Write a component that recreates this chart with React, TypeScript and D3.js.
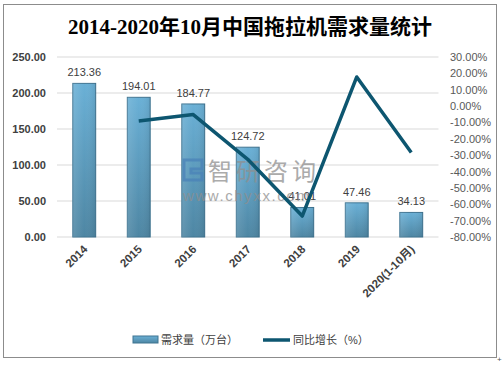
import React from "react";
import * as d3 from "d3";

const categories = ["2014", "2015", "2016", "2017", "2018", "2019", "2020(1-10月)"];
const demand = [213.36, 194.01, 184.77, 124.72, 41.01, 47.46, 34.13];
const demandLabels = ["213.36", "194.01", "184.77", "124.72", "41.01", "47.46", "34.13"];
const growth: (number | null)[] = [null, -9.1, -5.2, -32.5, -67.2, 17.8, -28.3];
const leftTicks = [0, 50, 100, 150, 200, 250];
const rightTicks = [30, 20, 10, 0, -10, -20, -30, -40, -50, -60, -70, -80];

const W = 503, H = 365;
const M = { left: 57, right: 438.5, top: 57, bottom: 237 };

export default function App() {
  const x = d3.scaleBand<string>().domain(categories).range([M.left, M.right]).paddingInner(0.58).paddingOuter(0.29);
  const y = d3.scaleLinear().domain([0, 250]).range([M.bottom, M.top]);
  const y2 = d3.scaleLinear().domain([-80, 30]).range([M.bottom, M.top]);
  const cx = (c: string) => (x(c) as number) + x.bandwidth() / 2;
  const linePts = categories.map((c, i) => ({ c, v: growth[i] })).filter(d => d.v !== null) as { c: string; v: number }[];
  const line = d3.line<{ c: string; v: number }>().x(d => cx(d.c)).y(d => y2(d.v));
  const font = "'Liberation Sans', 'Noto Sans CJK SC', sans-serif";
  return (
    <svg width={W} height={H} style={{ position: "absolute", left: 0, top: 0 }} fontFamily={font}>
      <defs>
        <linearGradient id="barg" x1="0" y1="0" x2="0" y2="1">
          <stop offset="0" stopColor="#6ab0d6" />
          <stop offset="1" stopColor="#4e86a3" />
        </linearGradient>
        <linearGradient id="barh" x1="0" y1="0" x2="1" y2="0">
          <stop offset="0" stopColor="#ffffff" stopOpacity="0.12" />
          <stop offset="0.5" stopColor="#ffffff" stopOpacity="0" />
          <stop offset="1" stopColor="#000000" stopOpacity="0.08" />
        </linearGradient>
      </defs>
      <rect x={0} y={0} width={W} height={H} fill="#fff" />
      <rect x={3.5} y={4.5} width={493} height={353} fill="#fff" stroke="#8c8c8c" strokeWidth={1} />
      <text x={497} y={362} fontSize={8} fill="#555">+</text>
      <text x={250} y={34} textAnchor="middle" fontSize={21} fontWeight="bold" fontFamily="'Liberation Serif', 'Noto Sans CJK SC', serif" fill="#000">
        2014-2020年10月中国拖拉机需求量统计
      </text>
      {leftTicks.map(t => (
        <g key={t}>
          <line x1={M.left} x2={M.right} y1={y(t)} y2={y(t)} stroke="#d9d9d9" strokeWidth={1} />
          <text x={46} y={y(t) + 4} textAnchor="end" fontSize={11} fontWeight="bold" fill="#404040">{t.toFixed(2)}</text>
        </g>
      ))}
      {rightTicks.map(t => (
        <text key={t} x={450} y={y2(t) + 4} fontSize={11} fill="#595959">{t.toFixed(2)}%</text>
      ))}
      {categories.map((c, i) => (
        <g key={c}>
          <rect x={x(c)} y={y(demand[i])} width={x.bandwidth()} height={y(0) - y(demand[i])} fill="url(#barg)" stroke="#3f7491" strokeWidth={1} />
          <rect x={x(c)} y={y(demand[i])} width={x.bandwidth()} height={y(0) - y(demand[i])} fill="url(#barh)" />
          <text x={cx(c)} y={y(demand[i]) - 7} textAnchor="middle" fontSize={11} fill="#404040">{demandLabels[i]}</text>
          <text transform={`translate(${cx(c) + 4},${y(0) + 13}) rotate(-45)`} textAnchor="end" fontSize={11.5} fontWeight="bold" fill="#404040">{c}</text>
        </g>
      ))}
      <g opacity={0.75}>
        <path d="M184,160 h18 v9 h-11 v4 h11 v7 h-18 z" fill="none" stroke="#4a82b8" strokeWidth={3} />
        <text x={208} y={180} fontSize={24} letterSpacing={4} fill="#8f8f8f" fontFamily="'Noto Sans CJK SC', sans-serif">智研咨询</text>
        <text x={183} y={201} fontSize={15} fill="#8f8f8f" letterSpacing={1.6}>www.chyxx.com</text>
      </g>
      <path d={line(linePts) ?? ""} fill="none" stroke="#0d5670" strokeWidth={3.5} strokeLinejoin="round" />
      <g>
        <rect x={133} y={336} width={25} height={7} fill="url(#barg)" stroke="#3f7491" />
        <text x={161} y={344} fontSize={11} fill="#404040">需求量（万台）</text>
        <line x1={263} x2={290} y1={340} y2={340} stroke="#0d5670" strokeWidth={3.5} />
        <text x={293} y={344} fontSize={11} fill="#404040">同比增长（%）</text>
      </g>
    </svg>
  );
}
